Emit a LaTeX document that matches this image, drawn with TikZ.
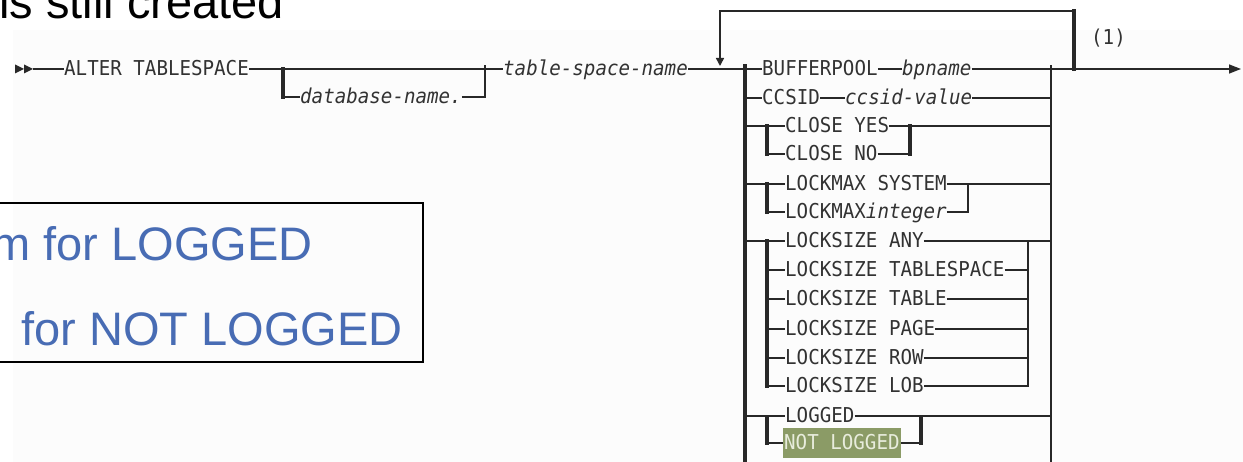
\documentclass[tikz,border=0pt]{standalone}
\usepackage{fontspec}
\setmainfont{Liberation Sans}
\newfontfamily\synfont[FakeStretch=0.935]{DejaVu Sans Mono}
\usetikzlibrary{arrows.meta}
\definecolor{ln}{RGB}{40,40,40}
\definecolor{txt}{RGB}{50,50,50}
\definecolor{hl}{RGB}{139,155,102}
\definecolor{hltxt}{RGB}{232,236,220}
\definecolor{bluetxt}{RGB}{72,108,180}
\definecolor{bgshade}{RGB}{252,252,252}
\begin{document}
\begin{tikzpicture}[x=1pt,y=-1pt,
  kw/.style={font=\synfont\fontsize{20.5}{21}\selectfont, text=txt, inner sep=0pt, text height=13pt, text depth=0pt, anchor=west},
  var/.style={kw, font=\synfont\itshape\fontsize{20.5}{21}\selectfont},
  rail/.style={draw=ln, line width=1.5pt},
  fork/.style={draw=ln, line width=3.5pt, line cap=rect},
  bar/.style={draw=ln, line width=2pt, line cap=rect},
  big/.style={font=\fontsize{47}{52}\selectfont, inner sep=0pt},
]
\useasboundingbox (0,0) rectangle (1243,462);
\clip (0,0) rectangle (1243,462);
\fill[white] (0,0) rectangle (1243,462);
\fill[bgshade] (13,30) rectangle (1243,462);

% title fragment
\node[big, anchor=base west] (title) at (-1,19) {is still created};

% box with explanation
\draw[black, line width=2pt] (-5,203) rectangle (423,362);
\node[big, text=bluetxt, anchor=base east] (l1) at (313,261) {m for LOGGED};
\node[big, text=bluetxt, anchor=base east] (l2) at (403,346) {for NOT LOGGED};

% coordinates
\coordinate (s) at (33,69);
\coordinate (F) at (283,69);
\coordinate (J) at (485,66);
\coordinate (L) at (745,66);
\coordinate (Lb) at (745,463);
\coordinate (R) at (1051,66);
\coordinate (Rb) at (1051,463);
\coordinate (SL) at (767,0);
\coordinate (SR1) at (910,0);
\coordinate (SR2) at (968,0);
\coordinate (SR3) at (1028,0);
\coordinate (SR4) at (921,0);
\coordinate (lpt) at (720,11);
\coordinate (lpd) at (720,66);
\coordinate (lpr) at (1074,11);
\coordinate (lprb) at (1074,69);
\coordinate (end) at (1241,69);

% nodes
\node[kw] (alter) at (64,69) {ALTER TABLESPACE};
\node[var] (db) at (300,97) {database-name.};
\node[var] (tsn) at (503,69) {table-space-name};
\node[kw] (bp) at (762,69) {BUFFERPOOL};
\node[var] (bpn) at (902,69) {bpname};
\node[kw] (cc) at (762,98) {CCSID};
\node[var] (ccv) at (845,98) {ccsid-value};
\node[kw] (cy) at (785,126) {CLOSE YES};
\node[kw] (cn) at (785,154) {CLOSE NO};
\node[kw] (lms) at (785,184) {LOCKMAX SYSTEM};
\node[kw] (lmi) at (785,212) {LOCKMAX\textit{integer}};
\node[kw] (ls1) at (785,241) {LOCKSIZE ANY};
\node[kw] (ls2) at (785,270) {LOCKSIZE TABLESPACE};
\node[kw] (ls3) at (785,299) {LOCKSIZE TABLE};
\node[kw] (ls4) at (785,329) {LOCKSIZE PAGE};
\node[kw] (ls5) at (785,358) {LOCKSIZE ROW};
\node[kw] (ls6) at (785,386) {LOCKSIZE LOB};
\node[kw] (lg) at (785,416) {LOGGED};
\node[kw, fill=hl, text=hltxt, minimum height=30pt, inner xsep=1pt] (nlg) at (783,443) {NOT LOGGED};
\node[kw] (note) at (1091,38) {(1)};

% start marks
\fill[ln] (15,64.5) -- (24,69) -- (15,73.5) -- cycle;
\fill[ln] (24,64.5) -- (33,69) -- (24,73.5) -- cycle;

% main line
\draw[rail] (s) -- (alter.west);
\draw[rail] (alter.east) -- (tsn.west);
\draw[fork] (F) -- (db.west -| F);
\draw[rail] (db.west -| F) -- (db.west);
\draw[rail] (db.east) -- (db.east -| J);
\draw[bar] (db.east -| J) -- (J);
\draw[rail] (tsn.east) -- (bp.west);
\draw[rail] (bp.east) -- (bpn.west);
\draw[rail, -{Triangle[length=12pt,width=9pt]}] (bpn.east) -- (end);

% repeat loop
\draw[rail, -{Triangle[length=8pt,width=8pt]}] (lpr) -- (lpt) -- (lpd);
\draw[fork] (lpr) -- (lprb);

% choice block bars
\draw[fork] (L) -- (Lb);
\draw[bar] (R) -- (Rb);

% CCSID
\draw[rail] (cc.west -| L) -- (cc.west);
\draw[rail] (cc.east) -- (ccv.west);
\draw[rail] (ccv.east) -- (ccv.east -| R);

% CLOSE
\draw[rail] (cy.west -| L) -- (cy.west);
\draw[fork] (cy.west -| SL) -- (cn.west -| SL);
\draw[rail] (cn.west -| SL) -- (cn.west);
\draw[rail] (cy.east) -- (cy.east -| R);
\draw[rail] (cn.east) -- (cn.east -| SR1);
\draw[fork] (cy.east -| SR1) -- (cn.east -| SR1);

% LOCKMAX
\draw[rail] (lms.west -| L) -- (lms.west);
\draw[fork] (lms.west -| SL) -- (lmi.west -| SL);
\draw[rail] (lmi.west -| SL) -- (lmi.west);
\draw[rail] (lms.east) -- (lms.east -| R);
\draw[rail] (lmi.east) -- (lmi.east -| SR2);
\draw[bar] (lms.east -| SR2) -- (lmi.east -| SR2);

% LOCKSIZE
\draw[rail] (ls1.west -| L) -- (ls1.west);
\draw[fork] (ls1.west -| SL) -- (ls6.west -| SL);
\foreach \n in {ls2,ls3,ls4,ls5,ls6}{
  \draw[rail] (\n.west -| SL) -- (\n.west);
  \draw[rail] (\n.east) -- (\n.east -| SR3);
}
\draw[rail] (ls1.east) -- (ls1.east -| R);
\draw[bar] (ls1.east -| SR3) -- (ls6.east -| SR3);

% LOGGED
\draw[rail] (lg.west -| L) -- (lg.west);
\draw[fork] ([yshift=-3pt]lg.west -| SL) -- (nlg.west -| SL);
\draw[rail] (nlg.west -| SL) -- (nlg.west);
\draw[rail] (lg.east) -- (lg.east -| R);
\draw[rail] (nlg.east) -- (nlg.east -| SR4);
\draw[fork] ([yshift=-3pt]lg.east -| SR4) -- (nlg.east -| SR4);
\end{tikzpicture}
\end{document}
